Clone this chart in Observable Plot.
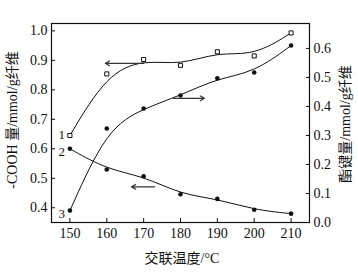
<!DOCTYPE html>
<html><head><meta charset="utf-8">
<script src="https://cdn.jsdelivr.net/npm/d3@7"></script>
<script src="https://cdn.jsdelivr.net/npm/@observablehq/plot@0.6"></script>
<style>body{margin:0;background:#fff}</style>
</head><body><div id="c"></div>
<script>
const temps = [150, 160, 170, 180, 190, 200, 210];
const cooh1 = [0.645, 0.854, 0.903, 0.883, 0.929, 0.915, 0.993];
const cooh2 = [0.600, 0.530, 0.507, 0.446, 0.430, 0.393, 0.380];
const ester3 = [0.041, 0.324, 0.393, 0.438, 0.497, 0.517, 0.610];
const xTicks = [150, 160, 170, 180, 190, 200, 210];
const leftTicks = [0.4, 0.5, 0.6, 0.7, 0.8, 0.9, 1.0];
const rightTicks = [0.0, 0.1, 0.2, 0.3, 0.4, 0.5, 0.6];
const seriesLabels = ["1", "2", "3"];
const xTitle = "交联温度/°C";
const leftTitle = "-COOH 量/mmol/g纤维";
const rightTitle = "酯键量/mmol/g纤维";
// arrows: [x from, x to, y value, axis]
const arrowFrom = [170, 173, 178];
const arrowTo = [159.6, 166.7, 186.5];
const arrowY = [0.89, 0.471, 0.428];
const arrowAxis = ["left", "left", "right"];

const L = [0.35, 1.025], R = [0, 0.686];
const r2l = v => L[0] + (v - R[0]) * (L[1] - L[0]) / (R[1] - R[0]);
const l2r = v => R[0] + (v - L[0]) * (R[1] - R[0]) / (L[1] - L[0]);

const s1 = temps.map((t, i) => ({t, v: cooh1[i]}));
const s2 = temps.map((t, i) => ({t, v: cooh2[i]}));
const s3 = temps.map((t, i) => ({t, v: r2l(ester3[i])}));
const starts = [cooh1[0], cooh2[0], r2l(ester3[0])];
const labelDy = [-1, 3, 3];
const arrows = arrowFrom.map((x1, i) => {
  const y = arrowAxis[i] === "right" ? r2l(arrowY[i]) : arrowY[i];
  return {x1, x2: arrowTo[i], y};
});

const serif = "'Liberation Serif', 'Noto Sans CJK SC', serif";
const chart = Plot.plot({
  width: 358, height: 276,
  marginLeft: 51, marginRight: 49, marginTop: 23, marginBottom: 54,
  style: {fontFamily: serif, fontSize: "14px", color: "#111", background: "#fff"},
  x: {domain: [145, 215]},
  y: {domain: L},
  marks: [
    Plot.frame({stroke: "#111", strokeWidth: 1.2}),
    Plot.axisX({ticks: xTicks, tickSize: -4, tickPadding: 10, tickFormat: d => d, fontSize: 14,
      fontFamily: serif, label: null}),
    Plot.axisY({ticks: leftTicks, tickSize: -4, tickPadding: 8, tickFormat: d => d.toFixed(1), fontSize: 14,
      fontFamily: serif, label: null}),
    Plot.axisY({anchor: "right", ticks: rightTicks.map(r2l), tickSize: -4, tickPadding: 8,
      tickFormat: d => l2r(d).toFixed(1), fontSize: 14, fontFamily: serif, label: null}),
    Plot.line(s1, {x: "t", y: "v", curve: "basis", stroke: "#111", strokeWidth: 1}),
    Plot.line(s2, {x: "t", y: "v", curve: "basis", stroke: "#111", strokeWidth: 1}),
    Plot.line(s3, {x: "t", y: "v", curve: "basis", stroke: "#111", strokeWidth: 1}),
    Plot.dot(s1, {x: "t", y: "v", symbol: "square", r: 2.3, stroke: "#111", fill: "#fff", strokeWidth: 1}),
    Plot.dot(s2, {x: "t", y: "v", r: 2.3, fill: "#111"}),
    Plot.dot(s3, {x: "t", y: "v", r: 2.3, fill: "#111"}),
    ...seriesLabels.map((s, i) => Plot.text([s], {x: () => temps[0], y: () => starts[i], text: d => d,
      dx: -5, dy: labelDy[i], textAnchor: "end", fontSize: 13, fontFamily: serif})),
    Plot.arrow(arrows, {x1: "x1", x2: "x2", y1: "y", y2: "y", stroke: "#333", strokeWidth: 1.2, headLength: 6, bend: 0})
  ]
});
document.getElementById("c").appendChild(chart);
const svg = d3.select(chart);
const addTitle = (tr, txt) => svg.append("text").attr("transform", tr).attr("text-anchor", "middle")
  .attr("font-family", serif).attr("font-size", 14).attr("fill", "#111").text(txt);
addTitle("translate(17,120) rotate(-90)", leftTitle);
addTitle("translate(350,124) rotate(-90)", rightTitle);
addTitle("translate(182,263)", xTitle);
</script></body></html>
